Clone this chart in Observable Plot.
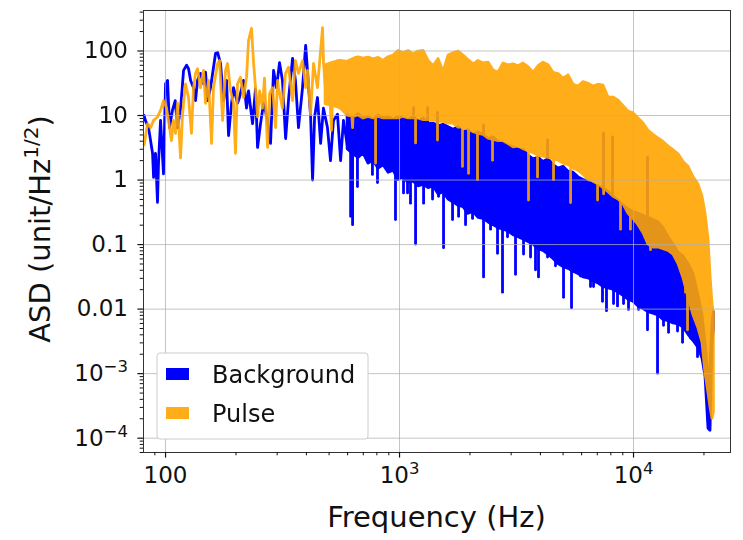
<!DOCTYPE html>
<html>
<head>
<meta charset="utf-8">
<script src="https://cdn.jsdelivr.net/npm/d3@7"></script>
<script src="https://cdn.jsdelivr.net/npm/@observablehq/plot@0.6"></script>
<style>
  html, body { margin: 0; padding: 0; background: #fff; }
  #chart { width: 743px; height: 540px; }
</style>
</head>
<body>
<div id="chart"></div>
<script>
// Axis ticks and labels
const xMajor = [100, 1000, 10000];
const xMajorLabels = ["100", "10^3", "10^4"];
const yMajor = [1e-4, 1e-3, 0.01, 0.1, 1, 10, 100];
const yMajorLabels = ["10^\u22124", "10^\u22123", "0.01", "0.1", "1", "10", "100"];

const seriesNames = ["Background", "Pulse"];
const seriesColors = ["#0000ff", "#ffa500"];

// Background: resolved trace at low frequency
const bgLineHz = [81, 82, 84.6, 88, 88.9, 90.6, 92.4, 93.3, 95.2, 98,
  100, 102, 104, 107, 110, 112.5, 116, 119.4, 123, 125.4,
  128, 131.7, 134.3, 137, 141, 145.3, 148.2, 151, 155.7, 163.6,
  166.9, 171.8, 177, 182.3, 185.9, 191.5, 195.2, 203, 207, 215.4,
  221.9, 226.3, 235.4, 242.4, 247.3, 254.7, 262.4, 272.9, 281, 289.5,
  298, 307, 316, 326, 336, 349, 359, 370, 385, 397,
  405, 417, 425, 433.5, 446, 460, 473, 492, 507, 522,
  543, 560, 576, 600];
const bgLineASD = [10, 8.4, 6.5, 2.6, 1.1, 2.6, 0.45, 1.8, 8.4, 1.25,
  31, 35, 6.5, 12, 17, 6.5, 13, 50, 60, 53,
  35, 27, 17, 35, 45, 31, 47, 17, 27, 92,
  95, 64, 17, 35, 4.9, 15.5, 27, 15.5, 19, 35,
  13, 24, 7.5, 26, 3.2, 7.5, 15.5, 8.4, 3.7, 50,
  27, 66, 35, 4.4, 19, 77, 35, 6.5, 27, 122,
  45, 9.5, 1.0, 9.5, 19, 3.7, 13, 6.5, 2.0, 8.4,
  10.5, 2.0, 8.4, 3.2];

// Background: dense part of the spectrum, as min/max envelope
const bgBandHz = [600, 636, 668, 702, 737, 774, 814, 855, 898, 943,
  990, 1040, 1093, 1148, 1206, 1267, 1331, 1398, 1468, 1542,
  1620, 1701, 1788, 1877, 1972, 2072, 2176, 2286, 2401, 2522,
  2649, 2783, 2923, 3070, 3225, 3388, 3558, 3738, 3926, 4124,
  4333, 4551, 4781, 5022, 5276, 5542, 5821, 6115, 6423, 6747,
  7088, 7445, 7821, 8215, 8629, 9065, 9520, 10000, 10505, 11033,
  11590, 12175, 12788, 13434, 14115, 14826, 15573, 16358, 17182, 18049,
  18960, 19720, 20310, 20920, 21330, 21750, 22050];
const bgBandHi = [10, 9, 10.5, 9, 9.5, 8.5, 10, 9, 9.5, 8.5,
  9.5, 9, 8.4, 9.5, 8, 9, 7.5, 7.5, 6.8, 7.2,
  6.6, 6.0, 6.6, 5.5, 5.9, 5.0, 5.5, 5.0, 4.3, 4.6,
  3.9, 3.7, 3.4, 3.2, 3.0, 2.9, 2.4, 2.1, 2.2, 1.9,
  2.1, 1.7, 1.5, 1.6, 1.35, 1.3, 1.1, 1.0, 0.95, 0.85,
  0.8, 0.75, 0.65, 0.55, 0.48, 0.4, 0.35, 0.32, 0.3, 0.28,
  0.26, 0.24, 0.22, 0.18, 0.13, 0.1, 0.075, 0.065, 0.05, 0.035,
  0.016, 0.008, 0.003, 0.0009, 0.0012, 0.006, 0.009];
const bgBandLo = [3.0, 2.5, 2.2, 2.6, 1.8, 2.0, 1.5, 1.7, 1.3, 1.4,
  1.0, 1.1, 0.9, 0.95, 0.8, 0.85, 0.75, 0.8, 0.6, 0.65,
  0.5, 0.45, 0.4, 0.38, 0.3, 0.32, 0.26, 0.25, 0.22, 0.2,
  0.18, 0.17, 0.16, 0.14, 0.13, 0.12, 0.11, 0.1, 0.085, 0.08,
  0.07, 0.06, 0.05, 0.045, 0.042, 0.038, 0.035, 0.031, 0.03, 0.027,
  0.025, 0.022, 0.021, 0.02, 0.018, 0.016, 0.014, 0.013, 0.011, 0.01,
  0.009, 0.0085, 0.008, 0.0068, 0.0065, 0.006, 0.0058, 0.0052, 0.004, 0.0032,
  0.0025, 0.0017, 0.0009, 0.00014, 0.00013, 0.003, 0.005];

// Background: isolated narrow excursions (dips, then peaks)
const bgStrokeHz = [618, 630, 661, 766, 805, 961, 1040, 1082, 1114, 1171,
  1267, 1384, 1468, 1542, 1685, 1788, 1915, 2051, 2286, 2449,
  2623, 2755, 2894, 3131, 3388, 3630, 3812, 3926, 4291, 4642,
  5022, 5433, 5935, 6550, 6747, 7369, 7665, 8215, 8542, 9065,
  9520, 10504, 11476, 12665, 13434, 14115, 15420, 16199, 17524, 18773,
  1148, 1318, 1453, 2286, 4291, 7442, 8135, 11476];
const bgStrokeLo = [0.27, 0.2, 0.78, 1.2, 0.9, 0.24, 0.62, 0.62, 0.43, 0.1,
  0.43, 0.5, 0.55, 0.088, 0.24, 0.27, 0.2, 0.25, 0.031, 0.17,
  0.072, 0.018, 0.13, 0.034, 0.07, 0.063, 0.04, 0.031, 0.063, 0.046,
  0.015, 0.0103, 0.032, 0.022, 0.022, 0.013, 0.0093, 0.012, 0.011, 0.012,
  0.0097, 0.0097, 0.0047, 0.001, 0.0055, 0.0043, 0.0045, 0.003, 0.0035, 0.0018,
  1, 1, 1, 0.5, 0.5, 0.3, 0.3, 0.2];
const bgStrokeHi = [3, 3, 3, 3, 3, 2, 2, 2, 2, 2,
  2, 1.5, 1.5, 1.5, 1, 1, 1, 1, 0.6, 0.6,
  0.5, 0.5, 0.4, 0.4, 0.3, 0.3, 0.3, 0.25, 0.2, 0.15,
  0.15, 0.1, 0.1, 0.08, 0.08, 0.07, 0.07, 0.06, 0.05, 0.05,
  0.04, 0.03, 0.03, 0.02, 0.02, 0.02, 0.015, 0.015, 0.01, 0.008,
  13, 13, 11, 7, 4.1, 5.3, 4.6, 2.2];

// Pulse: resolved trace at low frequency
const plsLineHz = [81, 83.8, 86.3, 88.9, 92.4, 95.2, 98, 101, 103, 106,
  108, 110.3, 112.5, 115.9, 118.2, 121.7, 125.4, 129.1, 131.7, 134.3,
  137, 141, 145.3, 148.2, 152.6, 157.3, 160.3, 166.9, 170.2, 175.3,
  180.5, 184, 189.6, 195.2, 199, 203, 209, 215.4, 221.9, 226.3,
  233, 237.9, 242.4, 247.3, 252.4, 259.6, 264.7, 272.9, 278.5, 286.7,
  295.3, 301, 304, 316, 325.7, 335.5, 349, 359, 370, 385,
  397, 404.5, 416.6, 429, 446, 455, 468.8, 473.4, 487.5, 497.5,
  512.3, 522.5, 543, 554, 570.6, 587.8, 605.6, 630, 648.6];
const plsLineASD = [3.5, 7.5, 6.5, 8.4, 9.5, 12, 17, 13, 8.4, 4.1,
  8.4, 5.3, 15.5, 2.2, 10.5, 31, 19, 5.3, 27, 45,
  53, 27, 50, 15.5, 35, 3.7, 27, 64, 71, 8.4,
  50, 64, 24, 15.5, 2.6, 31, 39, 19, 39, 145,
  225, 64, 27, 9.5, 24, 13, 38, 3.2, 22, 27,
  6.5, 35, 27, 13, 45, 56, 17, 71, 45, 71,
  27, 50, 10.5, 64, 27, 64, 230, 64, 15.5, 45,
  5.9, 64, 71, 13, 56, 27, 71, 6.5, 80];

// Pulse: dense part of the spectrum, as min/max envelope
const plsBandHz = [483, 522, 560, 600, 636, 668, 702, 737, 774, 814,
  855, 898, 943, 990, 1040, 1093, 1148, 1206, 1267, 1331,
  1398, 1468, 1542, 1620, 1701, 1788, 1877, 1972, 2072, 2176,
  2286, 2401, 2522, 2649, 2783, 2923, 3070, 3225, 3388, 3558,
  3738, 3926, 4124, 4333, 4551, 4781, 5022, 5276, 5542, 5821,
  6115, 6423, 6747, 7088, 7445, 7821, 8215, 8629, 9065, 9520,
  10000, 10505, 11033, 11590, 12175, 12788, 13434, 14115, 14826, 15573,
  16358, 17182, 18049, 18960, 19720, 20310, 20920, 21330, 21750, 22050];
const plsBandHi = [60, 66, 70, 68, 75, 80, 76, 79, 74, 78,
  70, 80, 85, 100, 92, 100, 88, 98, 100, 70,
  58, 75, 47, 85, 92, 98, 85, 72, 62, 70,
  64, 66, 50, 46, 64, 60, 62, 58, 64, 56,
  46, 58, 66, 60, 46, 44, 37, 42, 30, 28,
  33, 31, 28, 30, 29, 19, 19, 17, 14, 11.5,
  10.8, 9, 7.5, 5.8, 5.0, 4.4, 3.9, 3.3, 2.9, 2.5,
  1.9, 1.6, 1.1, 0.85, 0.55, 0.3, 0.12, 0.033, 0.012, 0.0087];
const plsBandLo = [15, 14, 13, 10, 9.5, 10, 9, 9.5, 9, 9.5,
  9, 9, 9, 9, 9.5, 9, 9, 9, 8.5, 8.5,
  8.5, 8, 8, 7.5, 7.5, 6.5, 6.5, 6, 5.5, 5.2,
  5, 4.4, 4.2, 4.0, 4.0, 3.6, 3.2, 3.3, 3.0, 2.8,
  2.6, 2.4, 2.3, 2.2, 2.1, 2.0, 1.8, 1.7, 1.5, 1.4,
  1.2, 1.0, 0.95, 0.85, 0.75, 0.65, 0.55, 0.5, 0.42, 0.3,
  0.25, 0.2, 0.15, 0.1, 0.09, 0.09, 0.085, 0.08, 0.07, 0.05,
  0.03, 0.015, 0.008, 0.005, 0.003, 0.001, 0.0005, 0.0003, 0.0002, 0.00025];

// Pulse: isolated narrow dips
const plsStrokeHz = [790, 1171, 1453, 1858, 1972, 2154, 2497, 3558, 3888, 4551,
  5382, 7020, 7450, 8798, 9700, 11818, 16681, 17015];
const plsStrokeLo = [1.8, 3.7, 4.1, 1.6, 1.25, 1.0, 2.0, 0.48, 1.1, 1.0,
  0.44, 0.48, 0.6, 0.17, 0.17, 0.082, 0.018, 0.0047];
const plsStrokeHi = [12, 11, 10, 8, 8, 7, 6, 4, 4, 3,
  2.5, 1.5, 1.2, 0.8, 0.5, 0.2, 0.05, 0.03];

// ---- tables for the marks ----
const pts = (hz, v) => hz.map((f, i) => ({f, v: v[i]}));
const band = (hz, lo, hi) => hz.map((f, i) => ({f, lo: lo[i], hi: hi[i]}));

const bgLine = pts(bgLineHz, bgLineASD);
const bgBand = band(bgBandHz, bgBandLo, bgBandHi);
const bgStrokes = band(bgStrokeHz, bgStrokeLo, bgStrokeHi);
const plsLine = pts(plsLineHz, plsLineASD);
const plsBand = band(plsBandHz, plsBandLo, plsBandHi);
const plsStrokes = band(plsStrokeHz, plsStrokeLo, plsStrokeHi);

function minorTicks(lo, hi) {
  const out = [];
  for (let e = Math.floor(Math.log10(lo)); e <= Math.ceil(Math.log10(hi)); e++)
    for (let m = 2; m <= 9; m++) {
      const v = m * Math.pow(10, e);
      if (v >= lo && v <= hi) out.push(v);
    }
  return out;
}

const xDomain = [80.5, 25970];
const yDomain = [6.0e-5, 424];
const LW = 2.8;
const FONT = "DejaVu Sans";

// one series = envelope area + narrow excursions + low-frequency trace
function seriesMarks(line, env, strokes, color) {
  return [
    Plot.areaY(env, {x: "f", y1: "lo", y2: "hi", fill: color, stroke: color,
      strokeWidth: LW, strokeLinejoin: "round"}),
    Plot.ruleX(strokes, {x: "f", y1: "lo", y2: "hi", stroke: color,
      strokeWidth: LW, strokeLinecap: "round"}),
    Plot.lineY(line, {x: "f", y: "v", stroke: color, strokeWidth: LW,
      strokeLinejoin: "round"})
  ];
}

const svg = Plot.plot({
  width: 743,
  height: 540,
  marginLeft: 143,
  marginRight: 13,
  marginTop: 10,
  marginBottom: 88,
  style: {fontFamily: FONT, fontSize: "23px", color: "#111", background: "#fff", overflow: "visible"},
  x: {type: "log", domain: xDomain, axis: null},
  y: {type: "log", domain: yDomain, axis: null},
  marks: [
    ...seriesMarks(bgLine, bgBand, bgStrokes, seriesColors[0]),
    ...seriesMarks(plsLine, plsBand, plsStrokes, seriesColors[1]),
    Plot.ruleX(xMajor, {stroke: "#b0b0b0", strokeOpacity: 0.75, strokeWidth: 1}),
    Plot.ruleY(yMajor, {stroke: "#b0b0b0", strokeOpacity: 0.75, strokeWidth: 1}),
    Plot.frame({stroke: "#333", strokeWidth: 1}),
    Plot.axisX(minorTicks(xDomain[0], xDomain[1]), {anchor: "bottom", tickSize: 3.3,
      tickFormat: () => "", label: null, strokeWidth: 1}),
    Plot.axisX(xMajor, {anchor: "bottom", tickSize: 5.6, tickPadding: 9, fontSize: 23,
      tickFormat: d => xMajorLabels[xMajor.indexOf(d)], label: null, strokeWidth: 1.2}),
    Plot.axisY(minorTicks(yDomain[0], yDomain[1]), {anchor: "left", tickSize: 3.3,
      tickFormat: () => "", label: null, strokeWidth: 1}),
    Plot.axisY(yMajor, {anchor: "left", tickSize: 5.6, tickPadding: 10, fontSize: 23,
      tickFormat: d => yMajorLabels[yMajor.indexOf(d)], label: null, strokeWidth: 1.2})
  ]
});

const NS = "http://www.w3.org/2000/svg";

// The pulse marks (second area, rule and line layers) share one translucent layer
const layerOf = label => [...svg.children].filter(el => el.getAttribute && el.getAttribute("aria-label") === label);
const pulseGroups = [layerOf("area")[1], layerOf("rule")[1], layerOf("line")[1]].filter(Boolean);
if (pulseGroups.length) {
  const layer = document.createElementNS(NS, "g");
  layer.setAttribute("opacity", "0.9");
  pulseGroups[0].parentNode.insertBefore(layer, pulseGroups[0]);
  pulseGroups.forEach(g => layer.appendChild(g));
}

// Exponents in tick labels
svg.querySelectorAll("text").forEach(t => {
  const s = t.textContent;
  const k = s.indexOf("^");
  if (k < 0) return;
  t.textContent = s.slice(0, k);
  const sup = document.createElementNS(NS, "tspan");
  sup.setAttribute("font-size", "16.5");
  sup.setAttribute("dy", "-9");
  sup.textContent = s.slice(k + 1);
  t.appendChild(sup);
});

const root = d3.select(svg);

// Axis titles
root.append("text")
  .attr("x", 436.5).attr("y", 527)
  .attr("text-anchor", "middle")
  .attr("font-family", FONT).attr("font-size", 29).attr("fill", "#111")
  .text("Frequency (Hz)");

const yTitle = root.append("text")
  .attr("transform", "translate(50,229) rotate(-90)")
  .attr("text-anchor", "middle")
  .attr("font-family", FONT).attr("font-size", 29).attr("fill", "#111");
yTitle.append("tspan").text("ASD (unit/Hz");
yTitle.append("tspan").attr("font-size", 20).attr("dy", -12).text("1/2");
yTitle.append("tspan").attr("dy", 12).text(")");

// Legend
const legend = root.append("g");
legend.append("rect")
  .attr("x", 157).attr("y", 353).attr("width", 211).attr("height", 86)
  .attr("rx", 3).attr("fill", "#fff").attr("stroke", "#cccccc").attr("stroke-width", 1);
seriesNames.forEach((name, i) => {
  const y0 = 368 + i * 39;
  legend.append("rect")
    .attr("x", 166).attr("y", y0).attr("width", 23).attr("height", 12)
    .attr("fill", seriesColors[i]).attr("fill-opacity", i === 1 ? 0.9 : 1);
  legend.append("text")
    .attr("x", 212).attr("y", y0 + 15)
    .attr("text-anchor", "start")
    .attr("font-family", FONT).attr("font-size", 24).attr("fill", "#111")
    .text(name);
});

document.getElementById("chart").appendChild(svg);
</script>
</body>
</html>
